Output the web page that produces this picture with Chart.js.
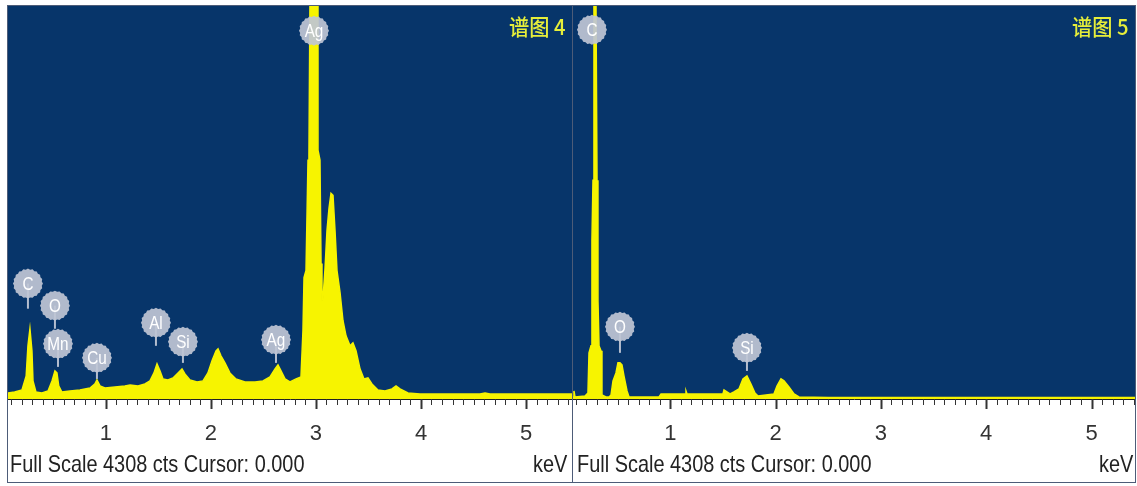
<!DOCTYPE html>
<html>
<head>
<meta charset="utf-8">
<script src="https://cdn.jsdelivr.net/npm/chart.js@4.4.0/dist/chart.umd.min.js"></script>
<style>
  body { margin: 0; background: #fff; width: 1137px; height: 486px; overflow: hidden; position: relative; }
  .panel { position: absolute; top: 5px; border: 1px solid #4d5c78; }
  .panel canvas { display: block; }
  .title { position: absolute; top: 11px; color: #e6ee3a; font: 500 22px "Noto Sans CJK SC", sans-serif; line-height: 28px; white-space: nowrap; transform: scaleX(0.92); transform-origin: right center; }
  .foot { position: absolute; top: 450px; color: #222; font: 24px "Liberation Sans", sans-serif; line-height: 28px; white-space: nowrap; transform: scaleX(0.83); }
  .foot.l { transform-origin: left center; }
  .foot.r { transform-origin: right center; }
</style>
</head>
<body>
<div class="panel" id="p4" style="left:7px"><canvas id="spec4" width="564" height="476"></canvas></div>
<div class="panel" id="p5" style="left:572px"><canvas id="spec5" width="562" height="476"></canvas></div>
<div class="title" style="right:572px">谱图 4</div>
<div class="title" style="right:9px">谱图 5</div>
<div class="foot l" style="left:10px">Full Scale 4308 cts Cursor: 0.000</div>
<div class="foot r" style="right:570px">keV</div>
<div class="foot l" style="left:577px">Full Scale 4308 cts Cursor: 0.000</div>
<div class="foot r" style="right:4px">keV</div>
<script>
// spectrum 4 (keV, counts)
const keV4 = [0.067, 0.13, 0.20, 0.24, 0.257, 0.276, 0.295, 0.305, 0.333, 0.39, 0.448, 0.486, 0.514, 0.533, 0.55, 0.58,
  0.657, 0.752, 0.848, 0.895, 0.914, 0.943, 0.99, 1.086, 1.18, 1.23, 1.305, 1.371, 1.419, 1.457, 1.486, 1.514, 1.543,
  1.59, 1.638, 1.686, 1.724, 1.752, 1.80, 1.867, 1.924, 1.971, 2.01, 2.048, 2.067, 2.095, 2.133, 2.18, 2.238, 2.324,
  2.42, 2.495, 2.562, 2.61, 2.638, 2.667, 2.705, 2.752, 2.81, 2.857, 2.876, 2.886, 2.905, 2.924, 2.933, 2.943, 2.952,
  3.01, 3.019, 3.038, 3.048, 3.057, 3.067, 3.086, 3.105, 3.124, 3.143, 3.162, 3.181, 3.2, 3.229, 3.257, 3.286, 3.324,
  3.352, 3.381, 3.419, 3.457, 3.495, 3.533, 3.59, 3.657, 3.724, 3.762, 3.80, 3.876, 3.99, 4.276, 4.562, 4.61, 4.657,
  4.943, 5.23, 5.44];
const cts4 = [66, 77, 99, 253, 583, 770, 528, 198, 77, 66, 88, 198, 308, 286, 143, 77,
  88, 99, 121, 165, 209, 143, 121, 132, 143, 154, 143, 165, 198, 286, 385, 308, 220,
  209, 231, 286, 330, 275, 209, 187, 198, 286, 418, 528, 550, 473, 396, 286, 220, 187,
  187, 198, 242, 330, 374, 308, 220, 187, 220, 242, 748, 1331, 1408, 2618, 2673, 4400, 4400,
  4400, 2728, 2618, 1485, 1078, 1100, 1430, 1848, 2090, 2255, 2233, 1848, 1408, 1166, 858, 693, 583,
  616, 528, 330, 220, 231, 165, 99, 88, 110, 143, 110, 66, 55, 55, 55, 66, 55,
  55, 55, 55];

// spectrum 5 (keV, counts)
const keV5 = [0.076, 0.085, 0.095, 0.19, 0.218, 0.228, 0.247, 0.256, 0.266, 0.275, 0.294, 0.304, 0.313, 0.323,
  0.342, 0.351, 0.389, 0.418, 0.437, 0.456, 0.484, 0.503, 0.522, 0.541, 0.56, 0.589, 0.608, 0.703, 0.893, 0.912,
  1.14, 1.149, 1.159, 1.367, 1.500, 1.510, 1.567, 1.604, 1.652, 1.690, 1.728, 1.766, 1.804, 1.833, 1.984, 2.013,
  2.051, 2.080, 2.127, 2.175, 2.222, 2.5, 3.0, 3.5, 4.0, 4.5, 5.0, 5.413];
const cts5 = [22, 88, 22, 33, 66, 506, 583, 1738, 2398, 4400, 4400, 2398, 1078, 583,
  528, 44, 22, 22, 44, 198, 286, 396, 396, 374, 253, 88, 22, 22, 22, 55,
  55, 88, 55, 55, 55, 99, 55, 77, 110, 220, 253, 165, 66, 33, 55, 143,
  220, 198, 132, 55, 22, 16, 16, 16, 16, 16, 16, 16];

// element markers: name, energy, label height, stem end (counts)
const peakNames4 = ['C', 'O', 'Mn', 'Cu', 'Al', 'Si', 'Ag', 'Ag'];
const peakKeV4 = [0.257, 0.514, 0.543, 0.914, 1.476, 1.733, 2.619, 2.981];
const peakLabelCts4 = [1265, 1023, 605, 451, 836, 627, 649, 4037];
const peakStemCts4 = [990, 770, 352, 220, 583, 396, 396, 4037];

const peakNames5 = ['C', 'O', 'Si'];
const peakKeV5 = [0.256, 0.522, 1.728];
const peakLabelCts5 = [4048, 792, 561];
const peakStemCts5 = [4048, 506, 308];

const tickValues = [1, 2, 3, 4, 5];
const fullScale = 4308;

const BG = '#07356a';
const YEL = '#f7f400';
const SANS = '"Liberation Sans", Arial, sans-serif';

const spectrumPlugin = {
  id: 'spectrum',
  beforeDraw(chart) {
    const { ctx, chartArea: a } = chart;
    ctx.save();
    ctx.fillStyle = BG;
    ctx.fillRect(a.left, a.top, a.right - a.left, a.bottom - a.top);
    ctx.restore();
  },
  afterDraw(chart, args, opts) {
    const { ctx } = chart;
    const xs = chart.scales.x, ys = chart.scales.y;
    ctx.save();
    // minor / major ticks
    ctx.strokeStyle = '#333';
    for (let i = Math.ceil(xs.min * 10); i <= Math.floor(xs.max * 10); i++) {
      const px = Math.round(xs.getPixelForValue(i / 10)) + 0.5;
      const len = i % 10 === 0 ? 10 : 6;
      ctx.lineWidth = i % 10 === 0 ? 2 : 1;
      ctx.beginPath();
      ctx.moveTo(px, xs.top);
      ctx.lineTo(px, xs.top + len);
      ctx.stroke();
    }
    // element labels
    const a = chart.chartArea;
    ctx.beginPath();
    ctx.rect(a.left, a.top, a.right - a.left, a.bottom - a.top);
    ctx.clip();
    opts.names.forEach((name, i) => {
      const cx = xs.getPixelForValue(opts.keV[i]);
      const cy = ys.getPixelForValue(opts.labelCts[i]);
      const sy = ys.getPixelForValue(opts.stemCts[i]);
      ctx.strokeStyle = 'rgba(190,197,212,0.95)';
      ctx.lineWidth = 2;
      ctx.beginPath();
      ctx.moveTo(cx, cy);
      ctx.lineTo(cx, sy);
      ctx.stroke();
      ctx.fillStyle = 'rgba(190,197,212,0.93)';
      ctx.beginPath();
      const n = 20;
      for (let k = 0; k <= n * 2; k++) {
        const ang = (k / (n * 2)) * Math.PI * 2;
        const r = k % 2 === 0 ? 15 : 14;
        const x = cx + r * Math.cos(ang), y = cy + r * Math.sin(ang);
        if (k === 0) ctx.moveTo(x, y); else ctx.lineTo(x, y);
      }
      ctx.closePath();
      ctx.fill();
      ctx.save();
      ctx.translate(cx, cy + 1);
      ctx.scale(0.85, 1);
      ctx.fillStyle = '#ffffff';
      ctx.font = '18px ' + SANS;
      ctx.textAlign = 'center';
      ctx.textBaseline = 'middle';
      ctx.fillText(name, 0, 0);
      ctx.restore();
    });
    ctx.restore();
  }
};

function makePanel(canvasId, keV, cts, names, pKeV, pLabel, pStem, xMin, xMax) {
  const points = keV.map((x, i) => ({ x, y: cts[i] }));
  return new Chart(document.getElementById(canvasId), {
    type: 'line',
    data: {
      datasets: [{
        data: points,
        borderColor: YEL,
        backgroundColor: YEL,
        borderWidth: 1.5,
        fill: 'origin',
        pointRadius: 0,
        tension: 0
      }]
    },
    options: {
      responsive: false,
      animation: false,
      devicePixelRatio: 1,
      layout: { padding: 0 },
      plugins: {
        legend: { display: false },
        tooltip: { enabled: false },
        spectrum: { names, keV: pKeV, labelCts: pLabel, stemCts: pStem }
      },
      scales: {
        x: {
          type: 'linear',
          min: xMin,
          max: xMax,
          grid: { display: false, drawTicks: false },
          border: { display: true, color: '#222', width: 1 },
          afterBuildTicks: s => { s.ticks = tickValues.map(v => ({ value: v })); },
          afterFit: s => { s.height = 83; },
          ticks: {
            autoSkip: false,
            maxRotation: 0,
            padding: 22,
            color: '#333',
            font: { family: SANS, size: 22 },
            callback: v => String(v)
          }
        },
        y: { display: false, min: 0, max: fullScale }
      }
    },
    plugins: [spectrumPlugin]
  });
}

makePanel('spec4', keV4, cts4, peakNames4, peakKeV4, peakLabelCts4, peakStemCts4, 0.067, 5.438);
makePanel('spec5', keV5, cts5, peakNames5, peakKeV5, peakLabelCts5, peakStemCts5, 0.076, 5.413);
</script>
</body>
</html>
